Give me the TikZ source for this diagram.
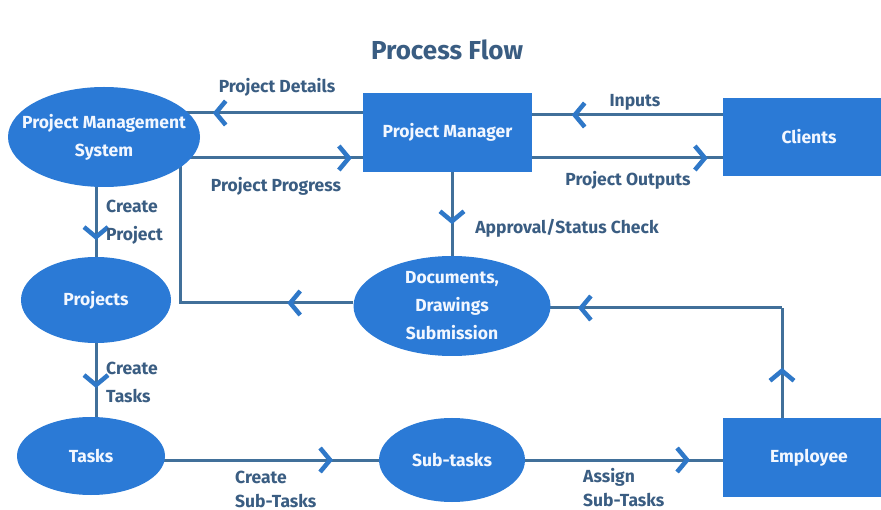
\documentclass[tikz,border=0pt]{standalone}
\usepackage{fontspec}
\setmainfont{Fira Sans}
\usetikzlibrary{arrows.meta,decorations.markings,shapes.geometric}
\pgfdeclarelayer{back}
\pgfdeclarelayer{bg}
\pgfsetlayers{back,bg,main}
\definecolor{shapec}{HTML}{2B7AD6}
\definecolor{linec}{HTML}{41709A}
\definecolor{arrowc}{HTML}{2F78C8}
\definecolor{textc}{HTML}{3A5D82}
\definecolor{wtext}{HTML}{F2F7FF}
\tikzset{
  box/.style={rectangle, fill=shapec, text=wtext, font=\bfseries\fontsize{17.5}{28}\selectfont, inner sep=0pt, align=center},
  oval/.style={ellipse, fill=shapec, inner sep=0pt},
  intext/.style={text=wtext, font=\bfseries\fontsize{17.5}{28}\selectfont, inner sep=0pt, align=center},
  lbl/.style={text=textc, font=\bfseries\fontsize{17.5}{28}\selectfont, inner sep=0pt, align=left},
  lblb/.style={text=textc, font=\bfseries\fontsize{17.5}{24}\selectfont, inner sep=0pt, align=left},
  conn/.style={draw=linec, line width=3pt},
  tipat/.style={postaction={decorate}, decoration={markings, mark=at position #1 with {\arrow{Straight Barb[length=10pt,width=24pt,line width=4.5pt,color=arrowc]}}}}
}
\begin{document}
\begin{tikzpicture}[x=1pt,y=-1pt]
\begin{pgfonlayer}{back}
\fill[white] (0,0) rectangle (881,510);
\end{pgfonlayer}
\clip (0,0) rectangle (881,510);
\node[text=textc, font=\bfseries\fontsize{26}{30}\selectfont] (title) at (447,50) {Process Flow};
% shapes
\node[oval, minimum width=192pt, minimum height=100pt] (pms) at (104,137) {};
\node[intext] (pmst) at (pms.center) {Project Management\\System};
\node[box, minimum width=169pt, minimum height=79pt] (pm) at (447.5,132.5) {Project Manager};
\node[box, minimum width=172pt, minimum height=78pt] (clients) at (809,137) {Clients};
\node[oval, minimum width=197pt, minimum height=100pt] (docs) at (452,306) {};
\node[intext] (docst) at (docs.center) {Documents,\\Drawings\\Submission};
\node[oval, minimum width=150pt, minimum height=86pt] (projects) at (96,300) {};
\node[intext] (projectst) at (projects.center) {Projects};
\node[oval, minimum width=148pt, minimum height=78pt] (tasks) at (91,456) {};
\node[intext] (taskst) at (tasks.center) {Tasks};
\node[oval, minimum width=146pt, minimum height=84pt] (subtasks) at (452,460) {};
\node[intext] (subtaskst) at (subtasks.center) {Sub-tasks};
\node[box, minimum width=172pt, minimum height=79pt] (employee) at (809,457.5) {Employee};
\coordinate (c1) at (180,303);
\coordinate (c2) at (782,308);
% connectors
\begin{pgfonlayer}{bg}
\draw[conn, tipat=150pt] (pm.west |- 0,113) -- (pms.center |- 0,113);
\draw[conn, tipat=-11pt] (pms.center |- 0,158) -- (pm.west |- 0,158);
\draw[conn, tipat=151pt] (clients.west |- 0,115) -- (pm.east |- 0,115);
\draw[conn, tipat=-15pt] (pm.east |- 0,158) -- (clients.west |- 0,158);
\draw[conn, tipat=52pt] (pm.south -| docs.center) -- (docs.center);
\draw[conn, tipat=66pt] (docs.west |- c1) -- (c1) -- (c1 |- pms.center);
\draw[conn, tipat=50pt] (employee.north -| c2) -- (c2);
\draw[conn, tipat=204pt] (c2) -- (docs.center |- c2);
\draw[conn, tipat=103pt] (pms.center -| projects.center) -- (projects.center);
\draw[conn, tipat=88pt] (projects.center) -- (projects.center |- tasks.center);
\draw[conn, tipat=242pt] (tasks.center |- subtasks.center) -- (subtasks.center);
\draw[conn, tipat=238pt] (subtasks.center) -- (employee.center |- subtasks.center);
\end{pgfonlayer}
% labels
\node[lbl] (l1) at (277,87) {Project Details};
\node[lbl] (l2) at (276,186) {Project Progress};
\node[lbl] (l3) at (635,102) {Inputs};
\node[lbl] (l4) at (628,180) {Project Outputs};
\node[lbl] (l5) at (567,228) {Approval/Status Check};
\node[lbl, anchor=west] (l6) at (106,222) {Create\\Project};
\node[lbl, anchor=west] (l7) at (106,382) {Create\\Tasks};
\node[lblb, anchor=west] (l8) at (235,489) {Create\\Sub-Tasks};
\node[lblb, anchor=west] (l9) at (583,488) {Assign\\Sub-Tasks};
\end{tikzpicture}
\end{document}
